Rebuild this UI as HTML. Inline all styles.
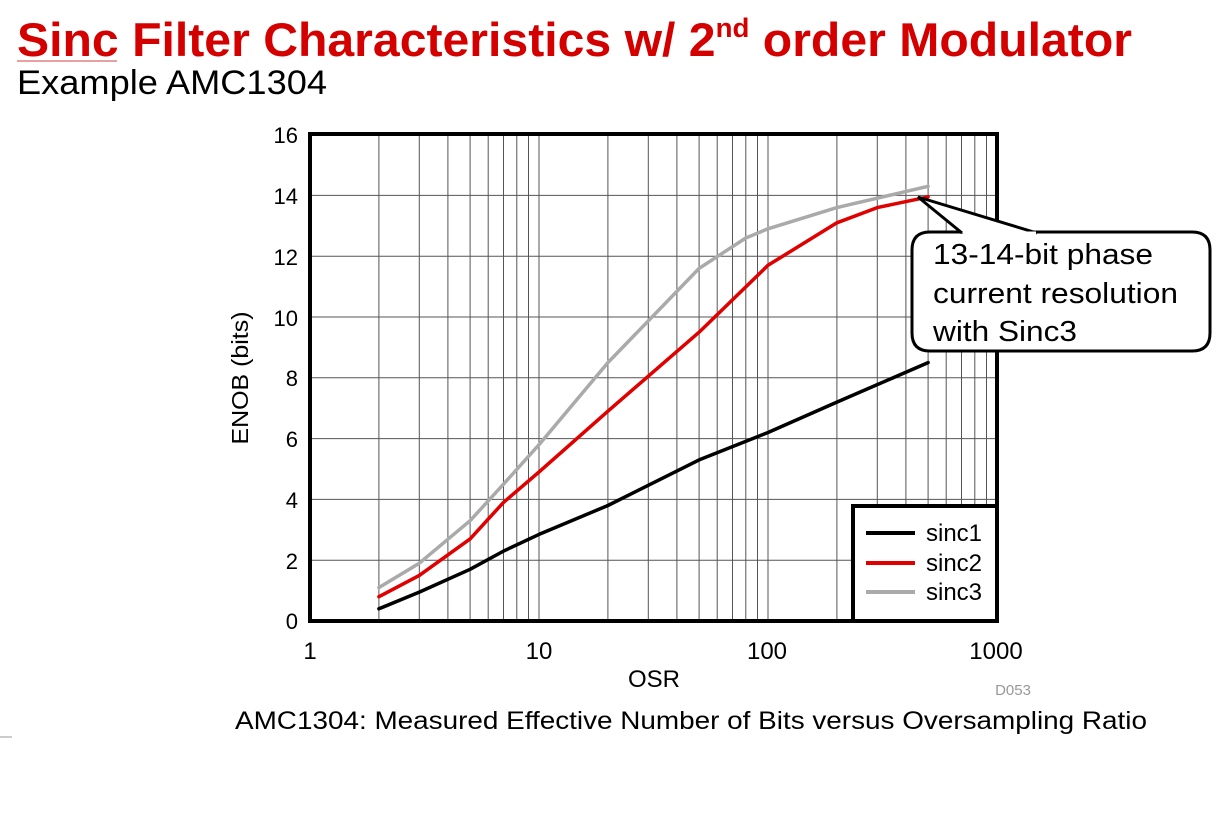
<!DOCTYPE html>
<html><head><style>
body{margin:0;background:#fff;}
svg{display:block;font-family:"Liberation Sans",Arial,sans-serif;}
</style></head><body>
<svg width="1230" height="822" viewBox="0 0 1230 822" xmlns="http://www.w3.org/2000/svg">
<text x="17" y="56" font-size="47" font-weight="bold" fill="#d40000" textLength="1115" lengthAdjust="spacingAndGlyphs">Sinc Filter Characteristics w/ 2<tspan font-size="27" dy="-19">nd</tspan><tspan dy="19"> order Modulator</tspan></text>
<line x1="17" y1="61" x2="117" y2="61" stroke="#e08080" stroke-width="1.5"/>
<text x="17" y="94" font-size="34" fill="#000" textLength="310" lengthAdjust="spacingAndGlyphs">Example AMC1304</text>
<g stroke="#555" stroke-width="1" fill="none">
<path d="M378.9,134V621M419.3,134V621M447.9,134V621M470.1,134V621M488.2,134V621M503.5,134V621M516.8,134V621M528.5,134V621M539,134V621"/>
<path d="M607.9,134V621M648.3,134V621M676.9,134V621M699.1,134V621M717.2,134V621M732.5,134V621M745.8,134V621M757.5,134V621M768,134V621"/>
<path d="M836.9,134V506M877.3,134V506M905.9,134V506M928.1,134V506M946.2,134V506M961.5,134V506M974.8,134V506M986.5,134V506"/>
<path d="M836.9,506V621"/>
<path d="M310,560.2H853M310,499.4H997M310,438.6H997M310,377.8H997M310,317H997M310,256.2H997M310,195.4H997"/>
</g>
<g fill="none" stroke-width="3.5" stroke-linejoin="round" stroke-linecap="round">
<polyline stroke="#000" points="378.9,608.8 419.3,592.1 470.1,569.3 503.5,551.1 539,534.4 607.9,505.5 699.1,459.9 768,432.5 836.9,402.1 928.1,362.6"/>
<polyline stroke="#aaa" points="378.9,587.6 419.3,563.2 470.1,520.7 503.5,484.2 539,444.7 607.9,362.6 699.1,268.4 745.8,238 768,228.8 836.9,207.6 928.1,186.3"/>
<polyline stroke="#e00000" points="378.9,596.7 419.3,575.4 470.1,538.9 503.5,502.4 539,472 607.9,411.2 699.1,332.2 768,265.3 836.9,222.8 877.3,207.6 928.1,196.9"/>
</g>
<rect x="310" y="134" width="687" height="487" fill="none" stroke="#000" stroke-width="4"/>
<g font-size="22" fill="#000" text-anchor="end">
<text x="298" y="143">16</text><text x="298" y="204">14</text><text x="298" y="265">12</text><text x="298" y="326">10</text><text x="298" y="386">8</text><text x="298" y="447">6</text><text x="298" y="508">4</text><text x="298" y="569">2</text><text x="298" y="629">0</text>
</g>
<g font-size="24" fill="#000" text-anchor="middle">
<text x="310" y="659">1</text><text x="539" y="659">10</text><text x="767" y="659">100</text><text x="996" y="659">1000</text>
<text x="654" y="687">OSR</text>
</g>
<text x="1013" y="695" font-size="15" fill="#999" text-anchor="middle">D053</text>
<text transform="translate(248,378) rotate(-90)" font-size="23" text-anchor="middle" textLength="133" lengthAdjust="spacingAndGlyphs">ENOB (bits)</text>
<text x="235" y="729" font-size="25" textLength="912" lengthAdjust="spacingAndGlyphs">AMC1304: Measured Effective Number of Bits versus Oversampling Ratio</text>
<line x1="0" y1="737" x2="12" y2="737" stroke="#999"/>
<rect x="853" y="506" width="144" height="115" fill="#fff" stroke="#000" stroke-width="4"/>
<line x1="866" y1="533" x2="915" y2="533" stroke="#000" stroke-width="4"/>
<line x1="866" y1="563" x2="915" y2="563" stroke="#e00000" stroke-width="4"/>
<line x1="866" y1="592" x2="915" y2="592" stroke="#aaa" stroke-width="4"/>
<g font-size="24"><text x="926" y="541">sinc1</text><text x="926" y="571">sinc2</text><text x="926" y="600">sinc3</text></g>
<path d="M930,232 H1192 Q1210,232 1210,250 V333 Q1210,351 1192,351 H930 Q912,351 912,333 V250 Q912,232 930,232 Z" fill="#fff" stroke="#000" stroke-width="3"/>
<path d="M962,233 L918,197 L1037,233" fill="#fff" stroke="#000" stroke-width="3"/>
<line x1="963" y1="233" x2="1036" y2="233" stroke="#fff" stroke-width="3"/>
<g font-size="29"><text x="933" y="264" textLength="220" lengthAdjust="spacingAndGlyphs">13-14-bit phase</text><text x="933" y="303" textLength="245" lengthAdjust="spacingAndGlyphs">current resolution</text><text x="933" y="341" textLength="144" lengthAdjust="spacingAndGlyphs">with Sinc3</text></g>
</svg>
</body></html>
